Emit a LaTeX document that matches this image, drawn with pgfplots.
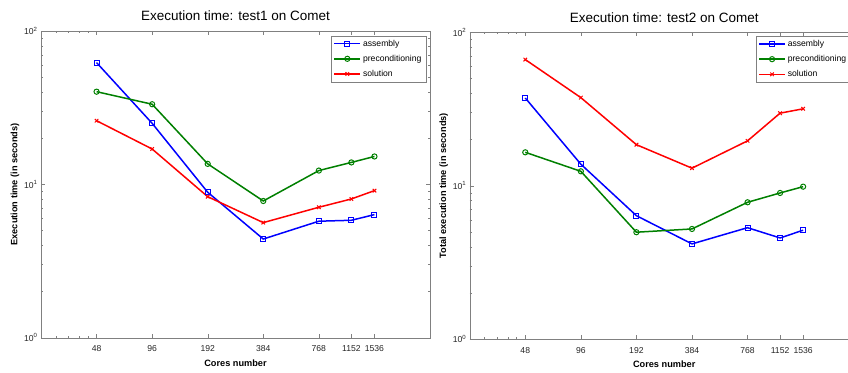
\documentclass[border=0pt]{standalone}
\usepackage{pgfplots}
\pgfplotsset{compat=1.18}
\usepackage{fontspec}
\setmainfont{Liberation Sans}
\definecolor{mblue}{RGB}{0,0,255}
\definecolor{mgreen}{RGB}{0,128,0}
\definecolor{mred}{RGB}{255,0,0}
\pgfplotsset{
  legend image code/.code={\draw[mark repeat=2,mark phase=2,line width=1.5pt,#1] plot coordinates {(0pt,0pt) (13pt,0pt) (26pt,0pt)};},
}
\begin{document}
\begin{tikzpicture}
\useasboundingbox (0,0) rectangle (848pt,372pt);
\clip (0,0) rectangle (848pt,372pt);
\fill[white] (0,0) rectangle (848pt,372pt);
\begin{axis}[at={(41pt,34.3pt)}, anchor=south west,
  xmode=log, ymode=log,
  scale only axis, width=389pt, height=306.7pt,
  xmin=24, xmax=3072, ymin=1, ymax=100,
  xtick={48,96,192,384,768,1152,1536},
  xticklabels={48,96,192,384,768,1152,1536},
  minor xtick={28.8,33.6,38.7,43},
  ytick={1,10,100},
  yticklabels={10\textsuperscript{0},10\textsuperscript{1},10\textsuperscript{2}},
  minor ytick={2,3,4,5,6,7,8,9,20,30,40,50,60,70,80,90},
  tick align=inside,
  major tick length=4pt, minor tick length=2pt,
  axis line style={black!50},
  tick style={black!50},
  tick label style={font=\fontsize{8.6}{9}\selectfont, text=black!85},
  xticklabel style={yshift=-4.5pt},
  title style={font=\fontsize{13.5}{15}\selectfont, at={(axis description cs:0.5,1)}, anchor=center, yshift=9pt},
  label style={font=\fontsize{9.2}{10}\selectfont\bfseries},
  xlabel style={at={(axis description cs:0.5,0)}, anchor=center, yshift=-25.5pt},
  ylabel style={at={(axis description cs:-0.0668,0.5)}, anchor=center},
  legend style={font=\fontsize{8.6}{10}\selectfont, draw=black!50, inner xsep=2.5pt, inner ysep=2pt, row sep=3.4pt, at={(0.99,0.985)}, anchor=north east},
  legend cell align=left,
  title={Execution time: test1 on Comet},
  xlabel={Cores number}, ylabel={Execution time (in seconds)}]
\addplot[mblue, line width=1.5pt, mark=square, mark size=2.5pt, mark options={solid, line width=1pt, fill=white}] coordinates {(48,62.2) (96,25.0) (192,8.88) (384,4.40) (768,5.75) (1152,5.83) (1536,6.35)};
\addlegendentry{assembly}
\addplot[mgreen, line width=1.5pt, mark=o, mark size=2.6pt, mark options={solid, line width=1pt, fill=white}] coordinates {(48,40.2) (96,33.3) (192,13.6) (384,7.79) (768,12.3) (1152,13.9) (1536,15.2)};
\addlegendentry{preconditioning}
\addplot[mred, line width=1.5pt, mark=x, mark size=2.5pt, mark options={solid, line width=1pt}] coordinates {(48,26.0) (96,17.0) (192,8.31) (384,5.63) (768,7.09) (1152,8.03) (1536,9.10)};
\addlegendentry{solution}
\end{axis}
\begin{axis}[at={(469.7pt,33pt)}, anchor=south west,
  xmode=log, ymode=log,
  scale only axis, width=389pt, height=306.7pt,
  xmin=24, xmax=3072, ymin=1, ymax=100,
  xtick={48,96,192,384,768,1152,1536},
  xticklabels={48,96,192,384,768,1152,1536},
  minor xtick={28.8,33.6,38.7,43},
  ytick={1,10,100},
  yticklabels={10\textsuperscript{0},10\textsuperscript{1},10\textsuperscript{2}},
  minor ytick={2,3,4,5,6,7,8,9,20,30,40,50,60,70,80,90},
  tick align=inside,
  major tick length=4pt, minor tick length=2pt,
  axis line style={black!50},
  tick style={black!50},
  tick label style={font=\fontsize{8.6}{9}\selectfont, text=black!85},
  xticklabel style={yshift=-4.5pt},
  title style={font=\fontsize{13.5}{15}\selectfont, at={(axis description cs:0.5,1)}, anchor=center, yshift=9pt},
  label style={font=\fontsize{9.2}{10}\selectfont\bfseries},
  xlabel style={at={(axis description cs:0.5,0)}, anchor=center, yshift=-25.5pt},
  ylabel style={at={(axis description cs:-0.0668,0.5)}, anchor=center},
  legend style={font=\fontsize{8.6}{10}\selectfont, draw=black!50, inner xsep=2.5pt, inner ysep=2pt, row sep=3.4pt, at={(0.735,0.988)}, anchor=north west},
  legend cell align=left,
  title={Execution time: test2 on Comet},
  xlabel={Cores number}, ylabel={Total execution time (in seconds)}]
\addplot[mblue, line width=1.5pt, mark=square, mark size=2.5pt, mark options={solid, line width=1pt, fill=white}] coordinates {(48,37.3) (96,13.8) (192,6.37) (384,4.17) (768,5.32) (1152,4.56) (1536,5.12)};
\addlegendentry{assembly}
\addplot[mgreen, line width=1.5pt, mark=o, mark size=2.6pt, mark options={solid, line width=1pt, fill=white}] coordinates {(48,16.5) (96,12.4) (192,4.97) (384,5.22) (768,7.79) (1152,8.96) (1536,9.85)};
\addlegendentry{preconditioning}
\addplot[mred, line width=1.5pt, mark=x, mark size=2.5pt, mark options={solid, line width=1pt}] coordinates {(48,66.4) (96,37.5) (192,18.5) (384,13.0) (768,19.6) (1152,29.7) (1536,31.7)};
\addlegendentry{solution}
\end{axis}
\end{tikzpicture}
\end{document}
